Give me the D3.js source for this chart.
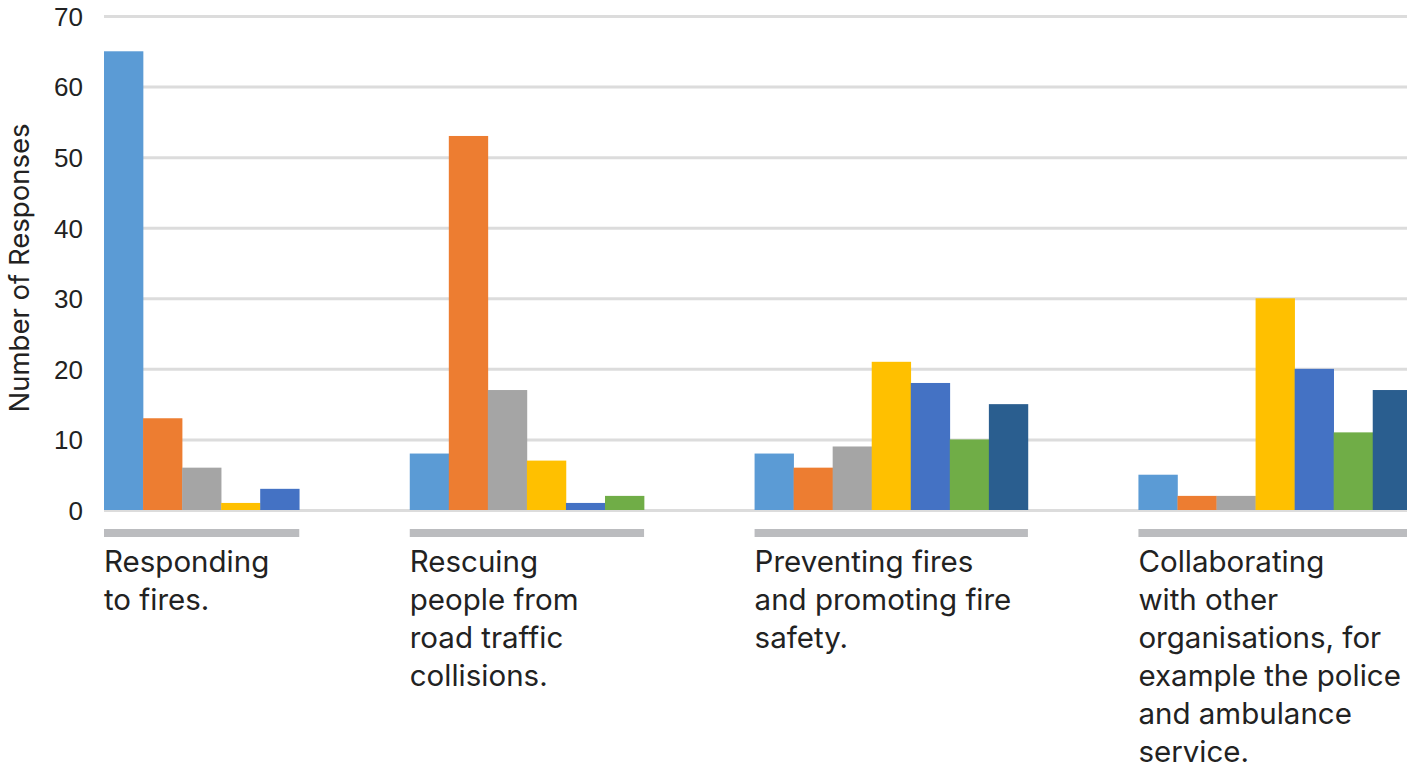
<!DOCTYPE html>
<html>
<head>
<meta charset="utf-8">
<script src="https://cdn.jsdelivr.net/npm/d3@7"></script>
<style>
  html, body { margin: 0; padding: 0; background: #ffffff; }
  svg { display: block; font-family: Inter, "Open Sans", sans-serif; }
</style>
</head>
<body>
<svg id="chart" width="1407" height="769"></svg>
<script>
// Survey categories, each label broken into its display lines
const categories = [
  ["Responding", "to fires."],
  ["Rescuing", "people from", "road traffic", "collisions."],
  ["Preventing fires", "and promoting fire", "safety."],
  ["Collaborating", "with other", "organisations, for", "example the police", "and ambulance", "service."]
];

// Responses per category for each of the seven answer series
const series1 = [65, 8, 8, 5];
const series2 = [13, 53, 6, 2];
const series3 = [6, 17, 9, 2];
const series4 = [1, 7, 21, 30];
const series5 = [3, 1, 18, 20];
const series6 = [0, 2, 10, 11];
const series7 = [0, 0, 15, 17];

const yTicks = [0, 10, 20, 30, 40, 50, 60, 70];
const yTitle = "Number of Responses";

const seriesList = [series1, series2, series3, series4, series5, series6, series7];
const palette = ["#5B9BD5", "#ED7D31", "#A5A5A5", "#FFC000", "#4472C4", "#70AD47", "#2A5E8F"];

const svg = d3.select("#chart");
const W = 1407;

const left = 104;
const slotPx = 39.05;     // width of one bar
const gapSlots = 2.83;    // space between category groups, in bar widths

// Only answers with at least one response get a bar; groups are sized by their bar count
const groups = categories.map((lines, ci) => {
  const bars = seriesList
    .map((s, si) => ({ series: si, value: s[ci] }))
    .filter(d => d.value > 0);
  return { lines, bars };
});
let cursor = 0;
groups.forEach(g => {
  g.start = cursor;
  g.size = g.bars.length;
  cursor += g.size + gapSlots;
});
const totalSlots = cursor - gapSlots;

const x = d3.scaleLinear()
  .domain([0, totalSlots])
  .range([left, left + slotPx * totalSlots]);

const y = d3.scaleLinear()
  .domain([0, 70])
  .range([510, 16]);

// Horizontal gridlines and value labels
const yAxis = d3.axisLeft(y)
  .tickValues(yTicks)
  .tickSize(-(W - left))
  .tickPadding(21)
  .tickFormat(d3.format("d"));

const gAxis = svg.append("g")
  .attr("transform", `translate(${left},0)`)
  .call(yAxis);
gAxis.select(".domain").remove();
gAxis.selectAll(".tick line")
  .attr("stroke", "#DCDCDC")
  .attr("stroke-width", 3);
gAxis.selectAll(".tick text")
  .attr("fill", "#222222")
  .attr("font-size", 26)
  .attr("dy", "0.36em");

// Axis title
svg.append("text")
  .attr("transform", `translate(29,${(y(0) + y(70)) / 2 + 5}) rotate(-90)`)
  .attr("text-anchor", "middle")
  .attr("fill", "#222222")
  .attr("font-size", 27.5)
  .text(yTitle);

// Bars
const gGroups = svg.append("g")
  .selectAll("g")
  .data(groups)
  .join("g");

gGroups.selectAll("rect")
  .data(g => g.bars.map((b, j) => ({ ...b, slot: g.start + j })))
  .join("rect")
  .attr("x", d => x(d.slot))
  .attr("width", x(1) - x(0) + 0.3)
  .attr("y", d => y(d.value))
  .attr("height", d => y(0) - y(d.value))
  .attr("fill", d => palette[d.series]);

// Category underline bars
gGroups.append("rect")
  .attr("x", g => x(g.start))
  .attr("width", g => x(g.start + g.size) - x(g.start))
  .attr("y", 529)
  .attr("height", 8)
  .attr("fill", "#BBBCBF");

// Category labels
gGroups.append("text")
  .attr("fill", "#222222")
  .attr("font-size", 29.5)
  .selectAll("tspan")
  .data(g => g.lines.map((line, i) => ({ line, i, x0: x(g.start) })))
  .join("tspan")
  .attr("x", d => d.x0)
  .attr("y", d => 572 + d.i * 38)
  .text(d => d.line);
</script>
</body>
</html>
